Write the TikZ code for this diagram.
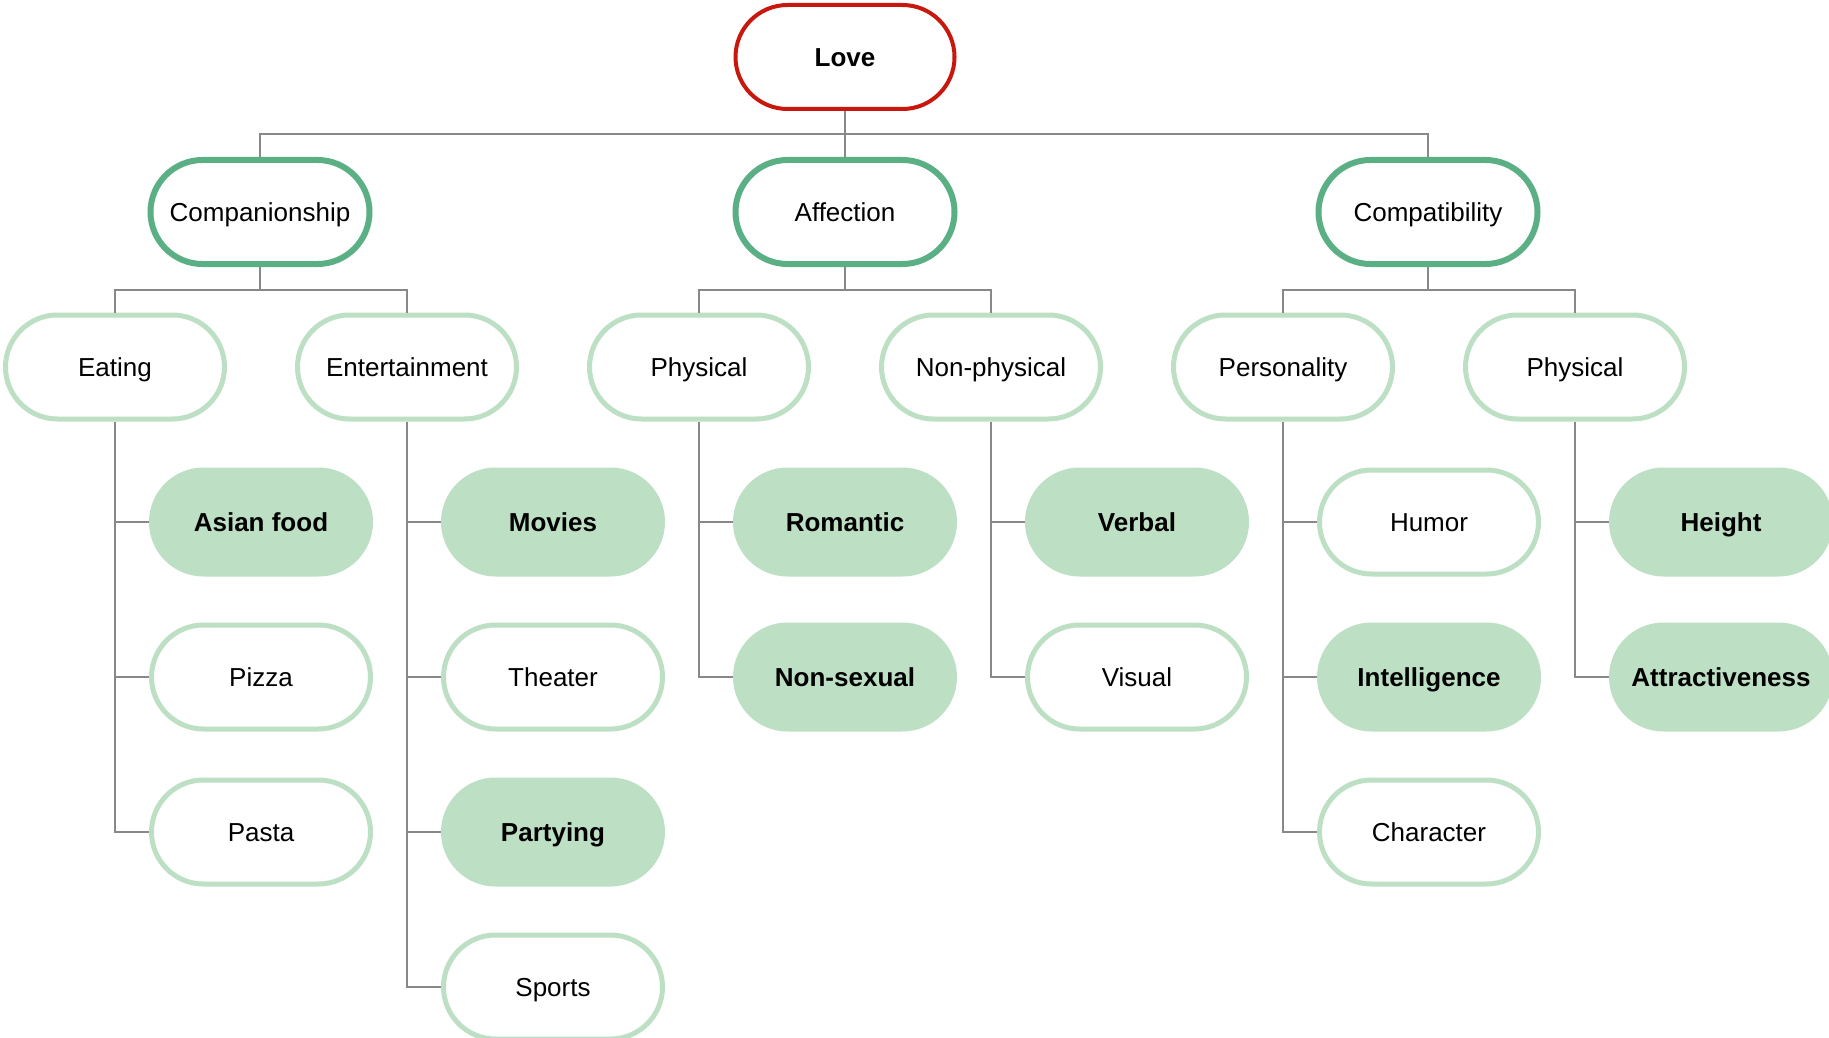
\documentclass[tikz,border=0pt]{standalone}
\usepackage{fontspec}
\setmainfont{Liberation Sans}
\usetikzlibrary{shapes.misc}

\definecolor{lovered}{HTML}{C8180E}
\definecolor{darkgreen}{HTML}{5BAF84}
\definecolor{lightgreen}{HTML}{BDDFC4}
\definecolor{linkgray}{HTML}{888888}

\tikzset{
  pill/.style={rounded rectangle,minimum width=219pt,minimum height=104pt,inner sep=0pt,
    text height=18.7pt,text depth=0pt,line width=5pt,fill=white,font=\fontsize{26}{30}\selectfont},
  root/.style={pill,draw=lovered,line width=4pt,font=\fontsize{26}{30}\selectfont\bfseries},
  topic/.style={pill,draw=darkgreen,line width=6pt},
  subtopic/.style={pill,draw=lightgreen},
  leaf/.style={pill,draw=lightgreen},
  keyleaf/.style={pill,draw=lightgreen,fill=lightgreen,font=\fontsize{26}{30}\selectfont\bfseries},
  link/.style={draw=linkgray,line width=2pt}
}

\begin{document}
\begin{tikzpicture}[x=1pt,y=-1pt]
                \useasboundingbox (0,0) rectangle (1829,1038);

                \node (love) at (845,57) [root] {Love};

                \node (comp) at (260,212) [topic] {Companionship};
                \node (affect) at (845,212) [topic] {Affection};
                \node (compat) at (1428,212) [topic] {Compatibility};

                \node (eat) at (115,367) [subtopic] {Eating};
                \node (ent) at (407,367) [subtopic] {Entertainment};
                \node (phys) at (699,367) [subtopic] {Physical};
                \node (nonphys) at (991,367) [subtopic] {Non-physical};
                \node (pers) at (1283,367) [subtopic] {Personality};
                \node (looks) at (1575,367) [subtopic] {Physical};

                \node (asian) at (261,522) [keyleaf] {Asian food};
                \node (pizza) at (261,677) [leaf] {Pizza};
                \node (pasta) at (261,832) [leaf] {Pasta};

                \node (movies) at (553,522) [keyleaf] {Movies};
                \node (theater) at (553,677) [leaf] {Theater};
                \node (party) at (553,832) [keyleaf] {Partying};
                \node (sports) at (553,987) [leaf] {Sports};

                \node (romantic) at (845,522) [keyleaf] {Romantic};
                \node (nonsex) at (845,677) [keyleaf] {Non-sexual};

                \node (verbal) at (1137,522) [keyleaf] {Verbal};
                \node (visual) at (1137,677) [leaf] {Visual};

                \node (humor) at (1429,522) [leaf] {Humor};
                \node (intel) at (1429,677) [keyleaf] {Intelligence};
                \node (charac) at (1429,832) [leaf] {Character};

                \node (height) at (1721,522) [keyleaf] {Height};
                \node (attract) at (1721,677) [keyleaf] {Attractiveness};

                \coordinate (bar0) at (845,134);
                \coordinate (bar1) at (260,290);
                \coordinate (bar2) at (845,290);
                \coordinate (bar3) at (1428,290);

                \draw[link] (love.south) -- (affect.north) (comp.north) |- (bar0) -| (compat.north)
                (comp.south) -- (bar1) (eat.north) |- (bar1) -| (ent.north)
                (affect.south) -- (bar2) (phys.north) |- (bar2) -| (nonphys.north)
                (compat.south) -- (bar3) (pers.north) |- (bar3) -| (looks.north);

                \draw[link] (eat.south) |- (asian.west) (eat.south) |- (pizza.west) (eat.south) |- (pasta.west)
                (ent.south) |- (movies.west) (ent.south) |- (theater.west) (ent.south) |- (party.west)
                (ent.south) |- (sports.west) (phys.south) |- (romantic.west) (phys.south) |- (nonsex.west)
                (nonphys.south) |- (verbal.west) (nonphys.south) |- (visual.west) (pers.south) |- (humor.west)
                (pers.south) |- (intel.west) (pers.south) |- (charac.west) (looks.south) |- (height.west)
                (looks.south) |- (attract.west);

            \end{tikzpicture}
\end{document}
